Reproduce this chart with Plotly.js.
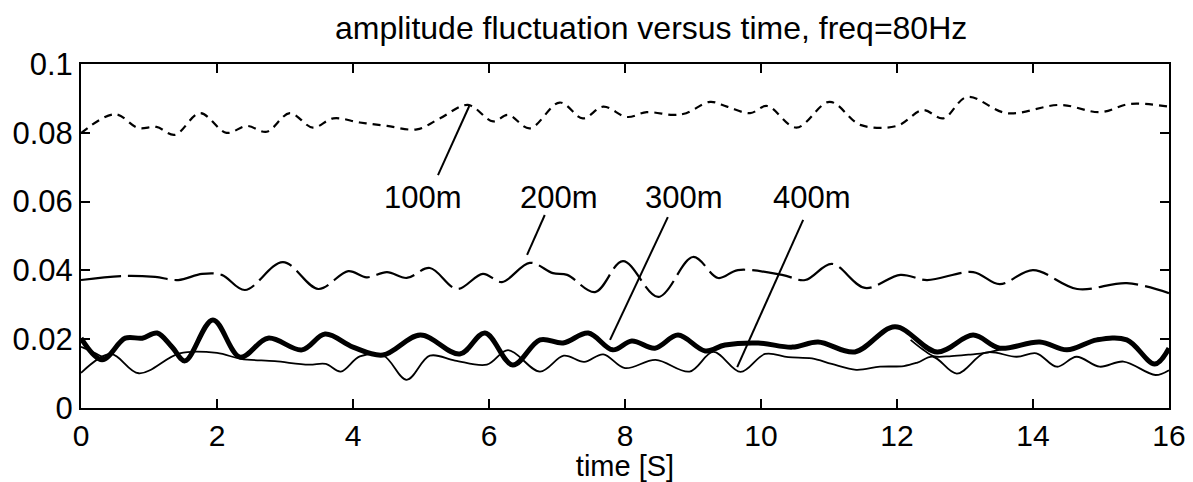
<!DOCTYPE html>
<html>
<head>
<meta charset="utf-8">
<script src="https://cdn.plot.ly/plotly-3.0.1.min.js"></script>
<style>
  html, body { margin: 0; padding: 0; background: #fff; }
  #chart { width: 1193px; height: 482px; }
</style>
</head>
<body>
<div id="chart"></div>
<script>
// ---- data ----
const t100 = [0, 0.5, 0.84, 1.11, 1.38, 1.75, 2.14, 2.44, 2.73, 3.07, 3.41, 3.71, 4.1, 4.5, 4.94, 5.28, 5.69, 6.06, 6.28, 6.6, 7.04, 7.38, 7.68, 8.03, 8.32, 8.71, 8.9, 9.25, 9.5, 9.84, 10.09, 10.52, 11.01, 11.46, 12.0, 12.38, 12.68, 13.03, 13.62, 14.4, 14.99, 15.43, 16.0];
const v100 = [0.0799, 0.0854, 0.0814, 0.0817, 0.0794, 0.0857, 0.0800, 0.0820, 0.0803, 0.0857, 0.0815, 0.0842, 0.0830, 0.0820, 0.0810, 0.0842, 0.0881, 0.0833, 0.0852, 0.0813, 0.0888, 0.0842, 0.0876, 0.0846, 0.0860, 0.0852, 0.0857, 0.0890, 0.0876, 0.0857, 0.0878, 0.0815, 0.0890, 0.0823, 0.0820, 0.0866, 0.0842, 0.0904, 0.0857, 0.0881, 0.0860, 0.0884, 0.0876];

const t200 = [0, 0.65, 1.09, 1.43, 1.78, 2.07, 2.41, 2.97, 3.49, 3.93, 4.2, 4.5, 4.79, 5.13, 5.53, 5.91, 6.19, 6.6, 6.94, 7.15, 7.56, 7.97, 8.49, 9.0, 9.37, 9.66, 10.31, 10.65, 11.04, 11.53, 12.05, 12.44, 13.12, 13.51, 14.0, 14.65, 15.38, 16.0];
const v200 = [0.0372, 0.0384, 0.0381, 0.0372, 0.0390, 0.0387, 0.0343, 0.0424, 0.0346, 0.0398, 0.0380, 0.0395, 0.0378, 0.0407, 0.0346, 0.0390, 0.0366, 0.0422, 0.0392, 0.0387, 0.0337, 0.0427, 0.0323, 0.0439, 0.0378, 0.0401, 0.0387, 0.0372, 0.0419, 0.0349, 0.0387, 0.0372, 0.0395, 0.0360, 0.0401, 0.0346, 0.0363, 0.0334];

const t300 = [0, 0.31, 0.65, 0.9, 1.12, 1.34, 1.53, 1.94, 2.34, 2.75, 3.25, 3.59, 4.0, 4.44, 4.99, 5.57, 5.94, 6.35, 6.75, 7.09, 7.46, 7.82, 8.1, 8.44, 8.78, 9.18, 9.47, 9.96, 10.46, 10.84, 11.38, 11.97, 12.59, 13.12, 13.51, 14.1, 14.5, 14.94, 15.38, 15.79, 16.0];
const v300 = [0.0203, 0.0140, 0.0203, 0.0203, 0.0218, 0.0177, 0.0137, 0.0256, 0.0148, 0.0203, 0.0169, 0.0215, 0.0177, 0.0154, 0.0212, 0.0157, 0.0218, 0.0125, 0.0198, 0.0189, 0.0218, 0.0169, 0.0195, 0.0174, 0.0212, 0.0166, 0.0183, 0.0189, 0.0177, 0.0192, 0.0163, 0.0236, 0.0163, 0.0212, 0.0174, 0.0192, 0.0169, 0.0198, 0.0198, 0.0128, 0.0174];

const t400 = [0, 0.44, 0.85, 1.45, 2.0, 2.35, 2.85, 3.35, 3.6, 3.82, 4.1, 4.45, 4.79, 5.13, 5.5, 5.97, 6.28, 6.75, 7.1, 7.4, 7.68, 8.0, 8.45, 8.95, 9.3, 9.7, 10.06, 10.4, 10.75, 11.04, 11.4, 11.75, 12.1, 12.3, 12.53, 12.88, 13.3, 13.76, 14.05, 14.35, 14.64, 14.98, 15.33, 15.8, 16.0];
const v400 = [0.0102, 0.0157, 0.0101, 0.0159, 0.0160, 0.0143, 0.0136, 0.0126, 0.0128, 0.0106, 0.0150, 0.0152, 0.0082, 0.0152, 0.0138, 0.0126, 0.0168, 0.0106, 0.0152, 0.0134, 0.0156, 0.0116, 0.0140, 0.0106, 0.0163, 0.0105, 0.0157, 0.0148, 0.0144, 0.0128, 0.0111, 0.0120, 0.0122, 0.0132, 0.0149, 0.0100, 0.0161, 0.0149, 0.0159, 0.0120, 0.0149, 0.0120, 0.0135, 0.0096, 0.0110];

// an extra thin trace, visible only where it separates from the bold one
const tExtra = [0, 0.15, 0.32, null, 12.2, 12.38, 12.55, 12.8, 13.05, 13.3, 13.55];
const vExtra = [0.0178, 0.0165, 0.0148, null, 0.0198, 0.0170, 0.0150, 0.0151, 0.0155, 0.0160, 0.0172];

const seriesNames = ['100m', '200m', '300m', '400m'];
const xTicks = [0, 2, 4, 6, 8, 10, 12, 14, 16];
const yTicks = [0, 0.02, 0.04, 0.06, 0.08, 0.1];
const yTickText = ['0', '0.02', '0.04', '0.06', '0.08', '0.1'];

// ---- traces ----
const FONT = 'Liberation Sans, Arial, Helvetica, sans-serif';
const base = { type: 'scatter', mode: 'lines', hoverinfo: 'skip', showlegend: false };
const traces = [
  Object.assign({}, base, { x: t100, y: v100, name: seriesNames[0],
    line: { color: '#000', width: 2.2, dash: '8px,6px', shape: 'spline', smoothing: 1 } }),
  Object.assign({}, base, { x: t200, y: v200, name: seriesNames[1],
    line: { color: '#000', width: 2.2, dash: '40px,7px', shape: 'spline', smoothing: 1 } }),
  Object.assign({}, base, { x: tExtra, y: vExtra, name: 'extra', connectgaps: false,
    line: { color: '#000', width: 1.8, shape: 'spline', smoothing: 1 } }),
  Object.assign({}, base, { x: t400, y: v400, name: seriesNames[3],
    line: { color: '#000', width: 1.8, shape: 'spline', smoothing: 1 } }),
  Object.assign({}, base, { x: t300, y: v300, name: seriesNames[2],
    line: { color: '#000', width: 5, shape: 'spline', smoothing: 1 } })
];

// ---- label pointers ----
const ptr = (x0, y0, x1, y1) => ({ type: 'line', xref: 'x', yref: 'y', x0, y0, x1, y1,
  line: { color: '#000', width: 2 } });
const lab = (x, y, text) => ({ x, y, xref: 'x', yref: 'y', text, showarrow: false,
  font: { family: FONT, size: 31, color: '#000' }, xanchor: 'center', yanchor: 'middle' });

const layout = {
  width: 1193, height: 482,
  margin: { l: 81, r: 24, t: 64, b: 74 },
  paper_bgcolor: '#fff', plot_bgcolor: '#fff',
  font: { family: FONT, color: '#000', size: 30 },
  title: { text: 'amplitude fluctuation versus time, freq=80Hz',
    font: { family: FONT, size: 32, color: '#000' },
    x: 0.524, xanchor: 'center', xref: 'paper', y: 0.942, yanchor: 'middle', yref: 'container' },
  xaxis: {
    range: [0, 16], tickvals: xTicks, ticktext: xTicks.map(String),
    ticks: 'inside', ticklen: 9, tickwidth: 2, tickcolor: '#000',
    showline: true, linecolor: '#000', linewidth: 2, mirror: 'ticks',
    showgrid: false, zeroline: false,
    tickfont: { family: FONT, size: 30, color: '#000' },
    title: { text: 'time [S]', font: { family: FONT, size: 29, color: '#000' }, standoff: 4 }
  },
  yaxis: {
    range: [0, 0.1], tickvals: yTicks, ticktext: yTickText,
    ticks: 'inside', ticklen: 9, tickwidth: 2, tickcolor: '#000',
    showline: true, linecolor: '#000', linewidth: 2, mirror: 'ticks',
    showgrid: false, zeroline: false,
    tickfont: { family: FONT, size: 31, color: '#000' }
  },
  shapes: [
    ptr(5.25, 0.0677, 5.71, 0.0878),
    ptr(6.82, 0.0561, 6.56, 0.0445),
    ptr(8.63, 0.0555, 7.78, 0.0198),
    ptr(10.62, 0.0547, 9.65, 0.0119)
  ],
  annotations: [
    lab(5.03, 0.0613, seriesNames[0]),
    lab(7.03, 0.0613, seriesNames[1]),
    lab(8.87, 0.0613, seriesNames[2]),
    lab(10.75, 0.0613, seriesNames[3])
  ]
};

Plotly.newPlot('chart', traces, layout, { staticPlot: true, displayModeBar: false });
</script>
</body>
</html>
